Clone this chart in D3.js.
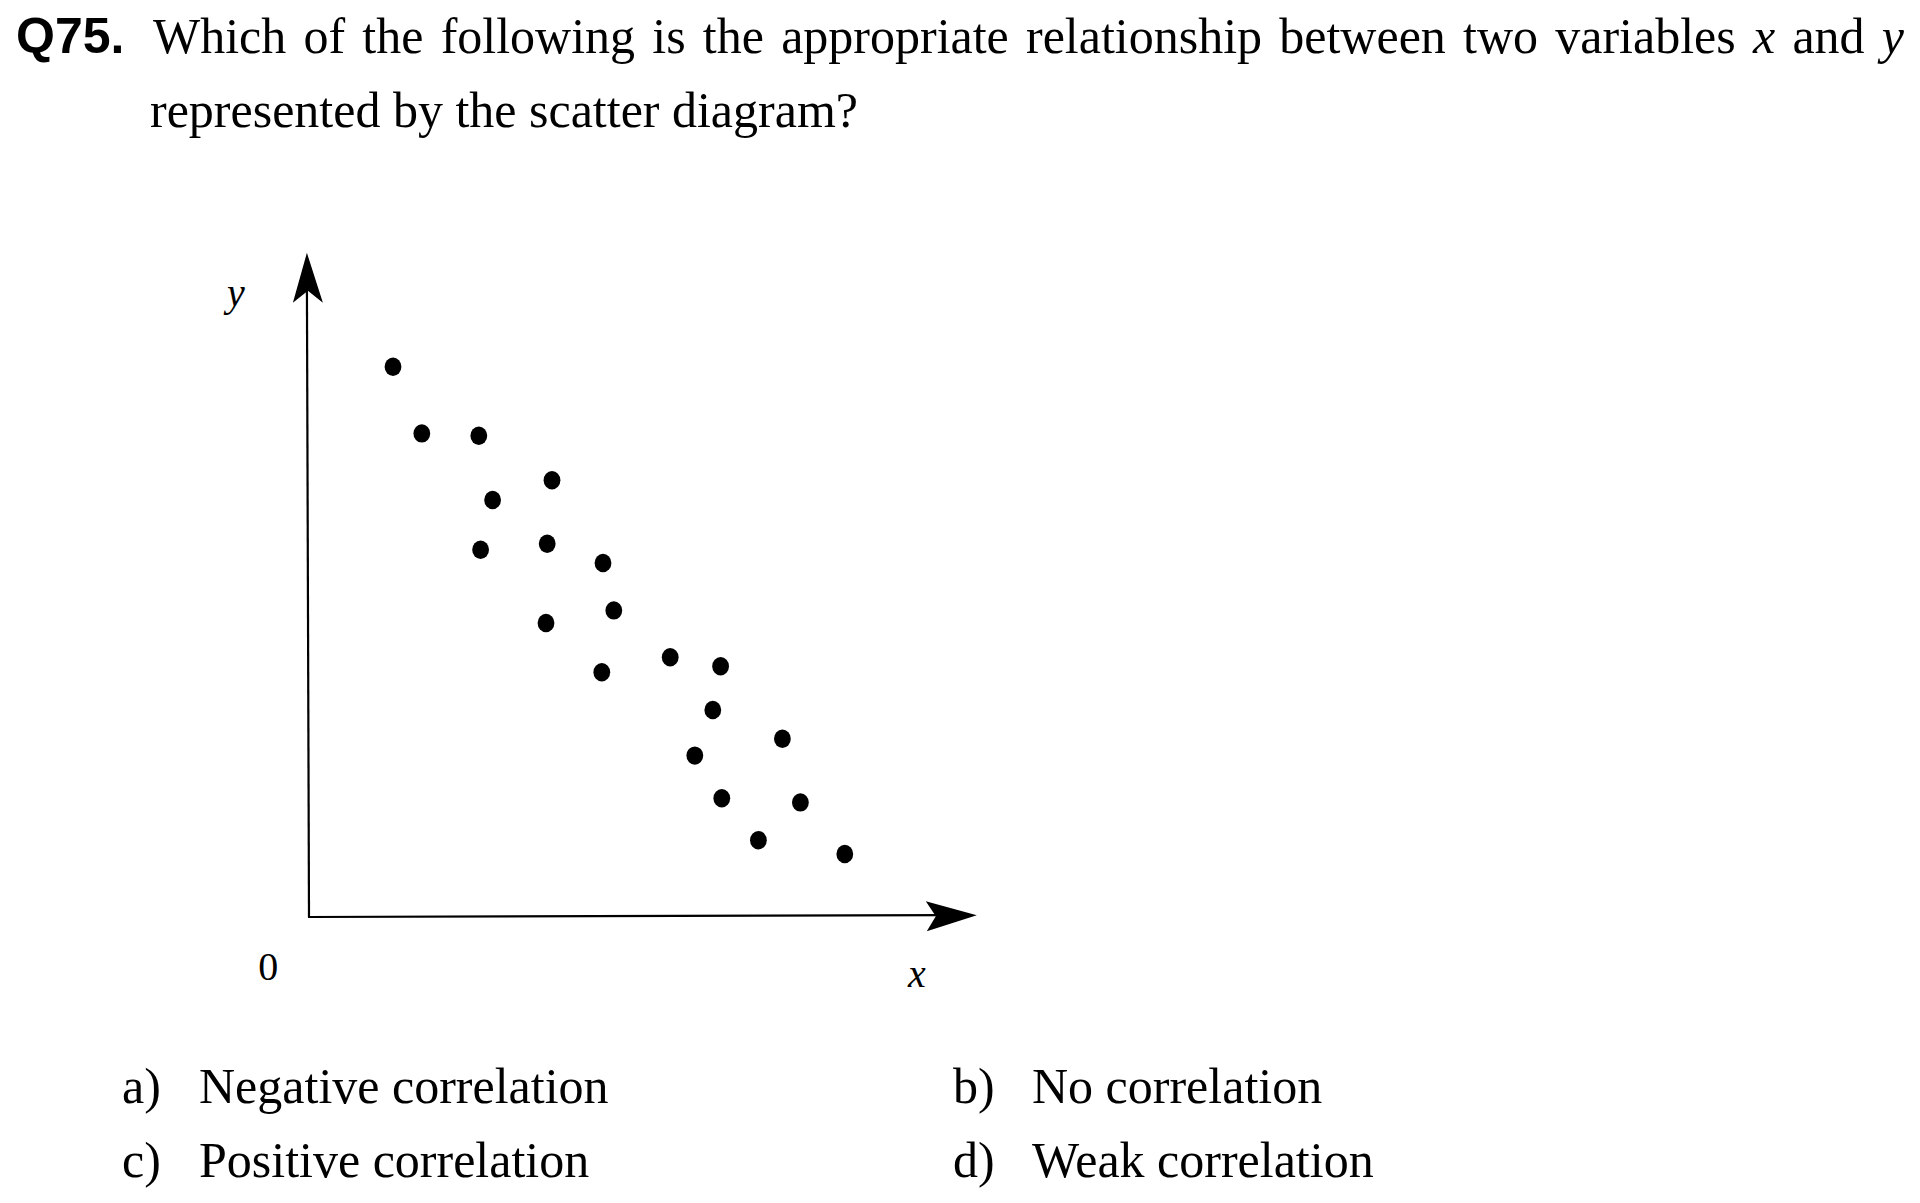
<!DOCTYPE html>
<html>
<head>
<meta charset="utf-8">
<script src="https://cdn.jsdelivr.net/npm/d3@7"></script>
<style>
  html, body { margin: 0; padding: 0; background: #ffffff; }
  svg { display: block; }
</style>
</head>
<body>
<svg id="chart" width="1920" height="1203"></svg>
<script>
// ---- data ----
const questionNumber = "Q75.";
const questionLine1 = ["Which of the following is the appropriate relationship between two variables ", "x", " and ", "y"];
const questionLine2 = "represented by the scatter diagram?";
const pointX = [1.40, 1.88, 2.83, 3.06, 4.05, 2.86, 3.97, 4.90, 5.08, 3.95, 4.88, 6.02, 6.86, 6.73, 7.89, 6.43, 6.88, 8.19, 7.49, 8.93];
const pointY = [9.17, 8.06, 8.02, 6.95, 7.28, 6.12, 6.22, 5.90, 5.11, 4.90, 4.08, 4.33, 4.18, 3.45, 2.97, 2.69, 1.98, 1.91, 1.28, 1.05];
const axisNames = ["x", "y"];
const originLabel = "0";
const optionLetters = ["a)", "b)", "c)", "d)"];
const optionTexts = ["Negative correlation", "No correlation", "Positive correlation", "Weak correlation"];

// ---- layout ----
const svg = d3.select("#chart");
const serif = "'Liberation Serif', 'Times New Roman', serif";
const sans = "'Liberation Sans', Arial, sans-serif";

const x = d3.scaleLinear().domain([0, 10]).range([309, 909]);
const y = d3.scaleLinear().domain([0, 10]).range([917, 317]);
const xMax = 11.13, yMax = 11.07;

// Title
svg.append("text")
  .attr("x", 16).attr("y", 53)
  .attr("font-family", sans).attr("font-weight", "bold").attr("font-size", 50)
  .attr("fill", "#000").text(questionNumber);

const t1 = svg.append("text")
  .attr("x", 153).attr("y", 53)
  .attr("font-family", serif).attr("font-size", 50).attr("fill", "#000")
  .attr("xml:space", "preserve").style("white-space", "pre");
questionLine1.forEach((s, i) => {
  t1.append("tspan").attr("font-style", (i % 2 === 1) ? "italic" : "normal").text(s);
});
// justify first line to right edge
const natural = t1.node().getComputedTextLength();
const target = 1904 - 153;
const nSpaces = questionLine1.join("").split(" ").length - 1;
if (natural < target) t1.attr("word-spacing", (target - natural) / nSpaces);

svg.append("text")
  .attr("x", 150).attr("y", 127)
  .attr("font-family", serif).attr("font-size", 50).attr("fill", "#000")
  .text(questionLine2);

// Axes
const g = svg.append("g");
g.append("line")
  .attr("x1", x(0)).attr("y1", y(0))
  .attr("x2", x(-0.035)).attr("y2", y(yMax) + 30)
  .attr("stroke", "#000").attr("stroke-width", 2.2);
g.append("line")
  .attr("x1", x(0) - 1).attr("y1", y(0))
  .attr("x2", x(xMax) - 30).attr("y2", y(0.03))
  .attr("stroke", "#000").attr("stroke-width", 2.2);

// arrowheads
const ytx = x(-0.035), yty = y(yMax);
g.append("path")
  .attr("d", `M${ytx},${yty} L${ytx + 16},${yty + 50} L${ytx + 1},${yty + 38} L${ytx - 14},${yty + 50} Z`)
  .attr("fill", "#000");
const xtx = x(xMax), xty = y(0.03);
g.append("path")
  .attr("d", `M${xtx},${xty} L${xtx - 51},${xty - 14} L${xtx - 41},${xty + 1} L${xtx - 50},${xty + 16} Z`)
  .attr("fill", "#000");

// axis labels
svg.append("text")
  .attr("x", x(10.13)).attr("y", y(-1.17))
  .attr("text-anchor", "middle")
  .attr("font-family", serif).attr("font-style", "italic").attr("font-size", 40)
  .text(axisNames[0]);
svg.append("text")
  .attr("x", x(-1.22)).attr("y", y(10.18))
  .attr("text-anchor", "middle")
  .attr("font-family", serif).attr("font-style", "italic").attr("font-size", 40)
  .text(axisNames[1]);
svg.append("text")
  .attr("x", x(-0.68)).attr("y", y(-1.05))
  .attr("text-anchor", "middle")
  .attr("font-family", serif).attr("font-size", 40)
  .text(originLabel);

// points
svg.append("g").selectAll("ellipse")
  .data(pointX.map((v, i) => ({ px: v, py: pointY[i] })))
  .join("ellipse")
  .attr("cx", d => x(d.px)).attr("cy", d => y(d.py))
  .attr("rx", 8.4).attr("ry", 9.2)
  .attr("fill", "#000");

// options
const optCols = [122, 953];
const optTextCols = [199, 1032];
const optRows = [1103, 1177];
optionLetters.forEach((l, i) => {
  const col = i % 2, row = Math.floor(i / 2);
  svg.append("text")
    .attr("x", optCols[col]).attr("y", optRows[row])
    .attr("font-family", serif).attr("font-size", 50).text(l);
  svg.append("text")
    .attr("x", optTextCols[col]).attr("y", optRows[row])
    .attr("font-family", serif).attr("font-size", 50).text(optionTexts[i]);
});
</script>
</body>
</html>
